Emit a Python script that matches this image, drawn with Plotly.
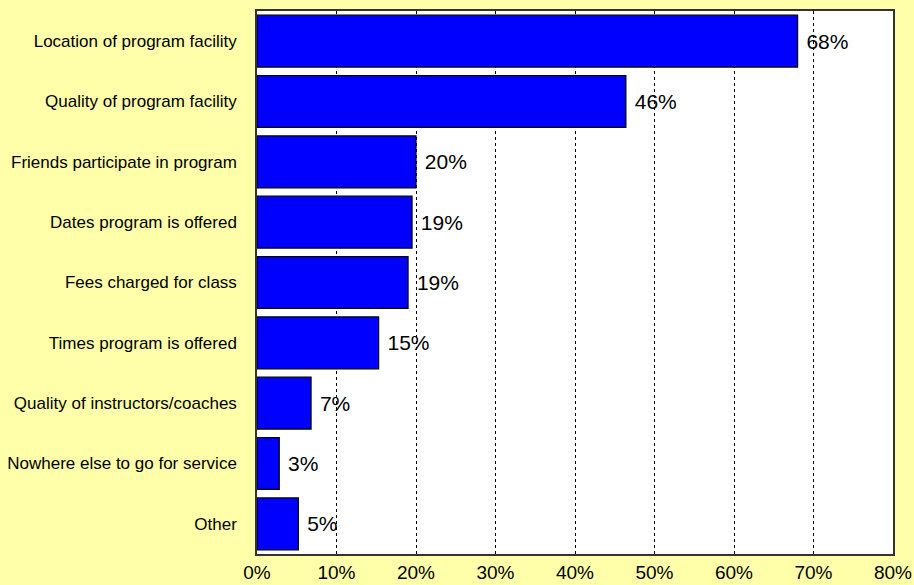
import plotly.graph_objects as go

categories = [
    "Location of program facility",
    "Quality of program facility",
    "Friends participate in program",
    "Dates program is offered",
    "Fees charged for class",
    "Times program is offered",
    "Quality of instructors/coaches",
    "Nowhere else to go for service",
    "Other",
]
values = [68.0, 46.4, 20.0, 19.5, 19.0, 15.3, 6.8, 2.8, 5.2]
labels = ["68%", "46%", "20%", "19%", "19%", "15%", "7%", "3%", "5%"]
tick_vals = [0, 10, 20, 30, 40, 50, 60, 70, 80]
tick_text = ["0%", "10%", "20%", "30%", "40%", "50%", "60%", "70%", "80%"]

fig = go.Figure(
    go.Bar(
        x=values,
        y=categories,
        orientation="h",
        text=[" " + t for t in labels],
        textposition="outside",
        cliponaxis=False,
        textfont=dict(family="Arial", size=21, color="black"),
        marker=dict(color="#0000FF", line=dict(color="black", width=1.2)),
    )
)

fig.update_layout(
    width=914,
    height=585,
    paper_bgcolor="#FFFFAA",
    plot_bgcolor="white",
    margin=dict(l=257, r=21, t=11, b=31, autoexpand=False),
    bargap=0.14,
    showlegend=False,
    font=dict(family="Arial", size=17, color="black"),
    xaxis=dict(
        range=[0, 80],
        tickvals=tick_vals,
        ticktext=tick_text,
        showgrid=True,
        gridcolor="black",
        griddash="dot",
        gridwidth=1,
        showline=True,
        linecolor="#333333",
        linewidth=1.5,
        mirror=True,
        zeroline=False,
        automargin=False,
        tickfont=dict(size=19),
    ),
    yaxis=dict(
        autorange="reversed",
        showline=True,
        linecolor="#333333",
        linewidth=1.5,
        mirror=True,
        ticks="",
        automargin=False,
        ticklabelstandoff=15,
    ),
)

# the page's default body margin would shift the figure by 8px
fig.write_html(
    "out.html",
    config={"displayModeBar": False},
    post_script="document.body.style.margin='0';",
)
